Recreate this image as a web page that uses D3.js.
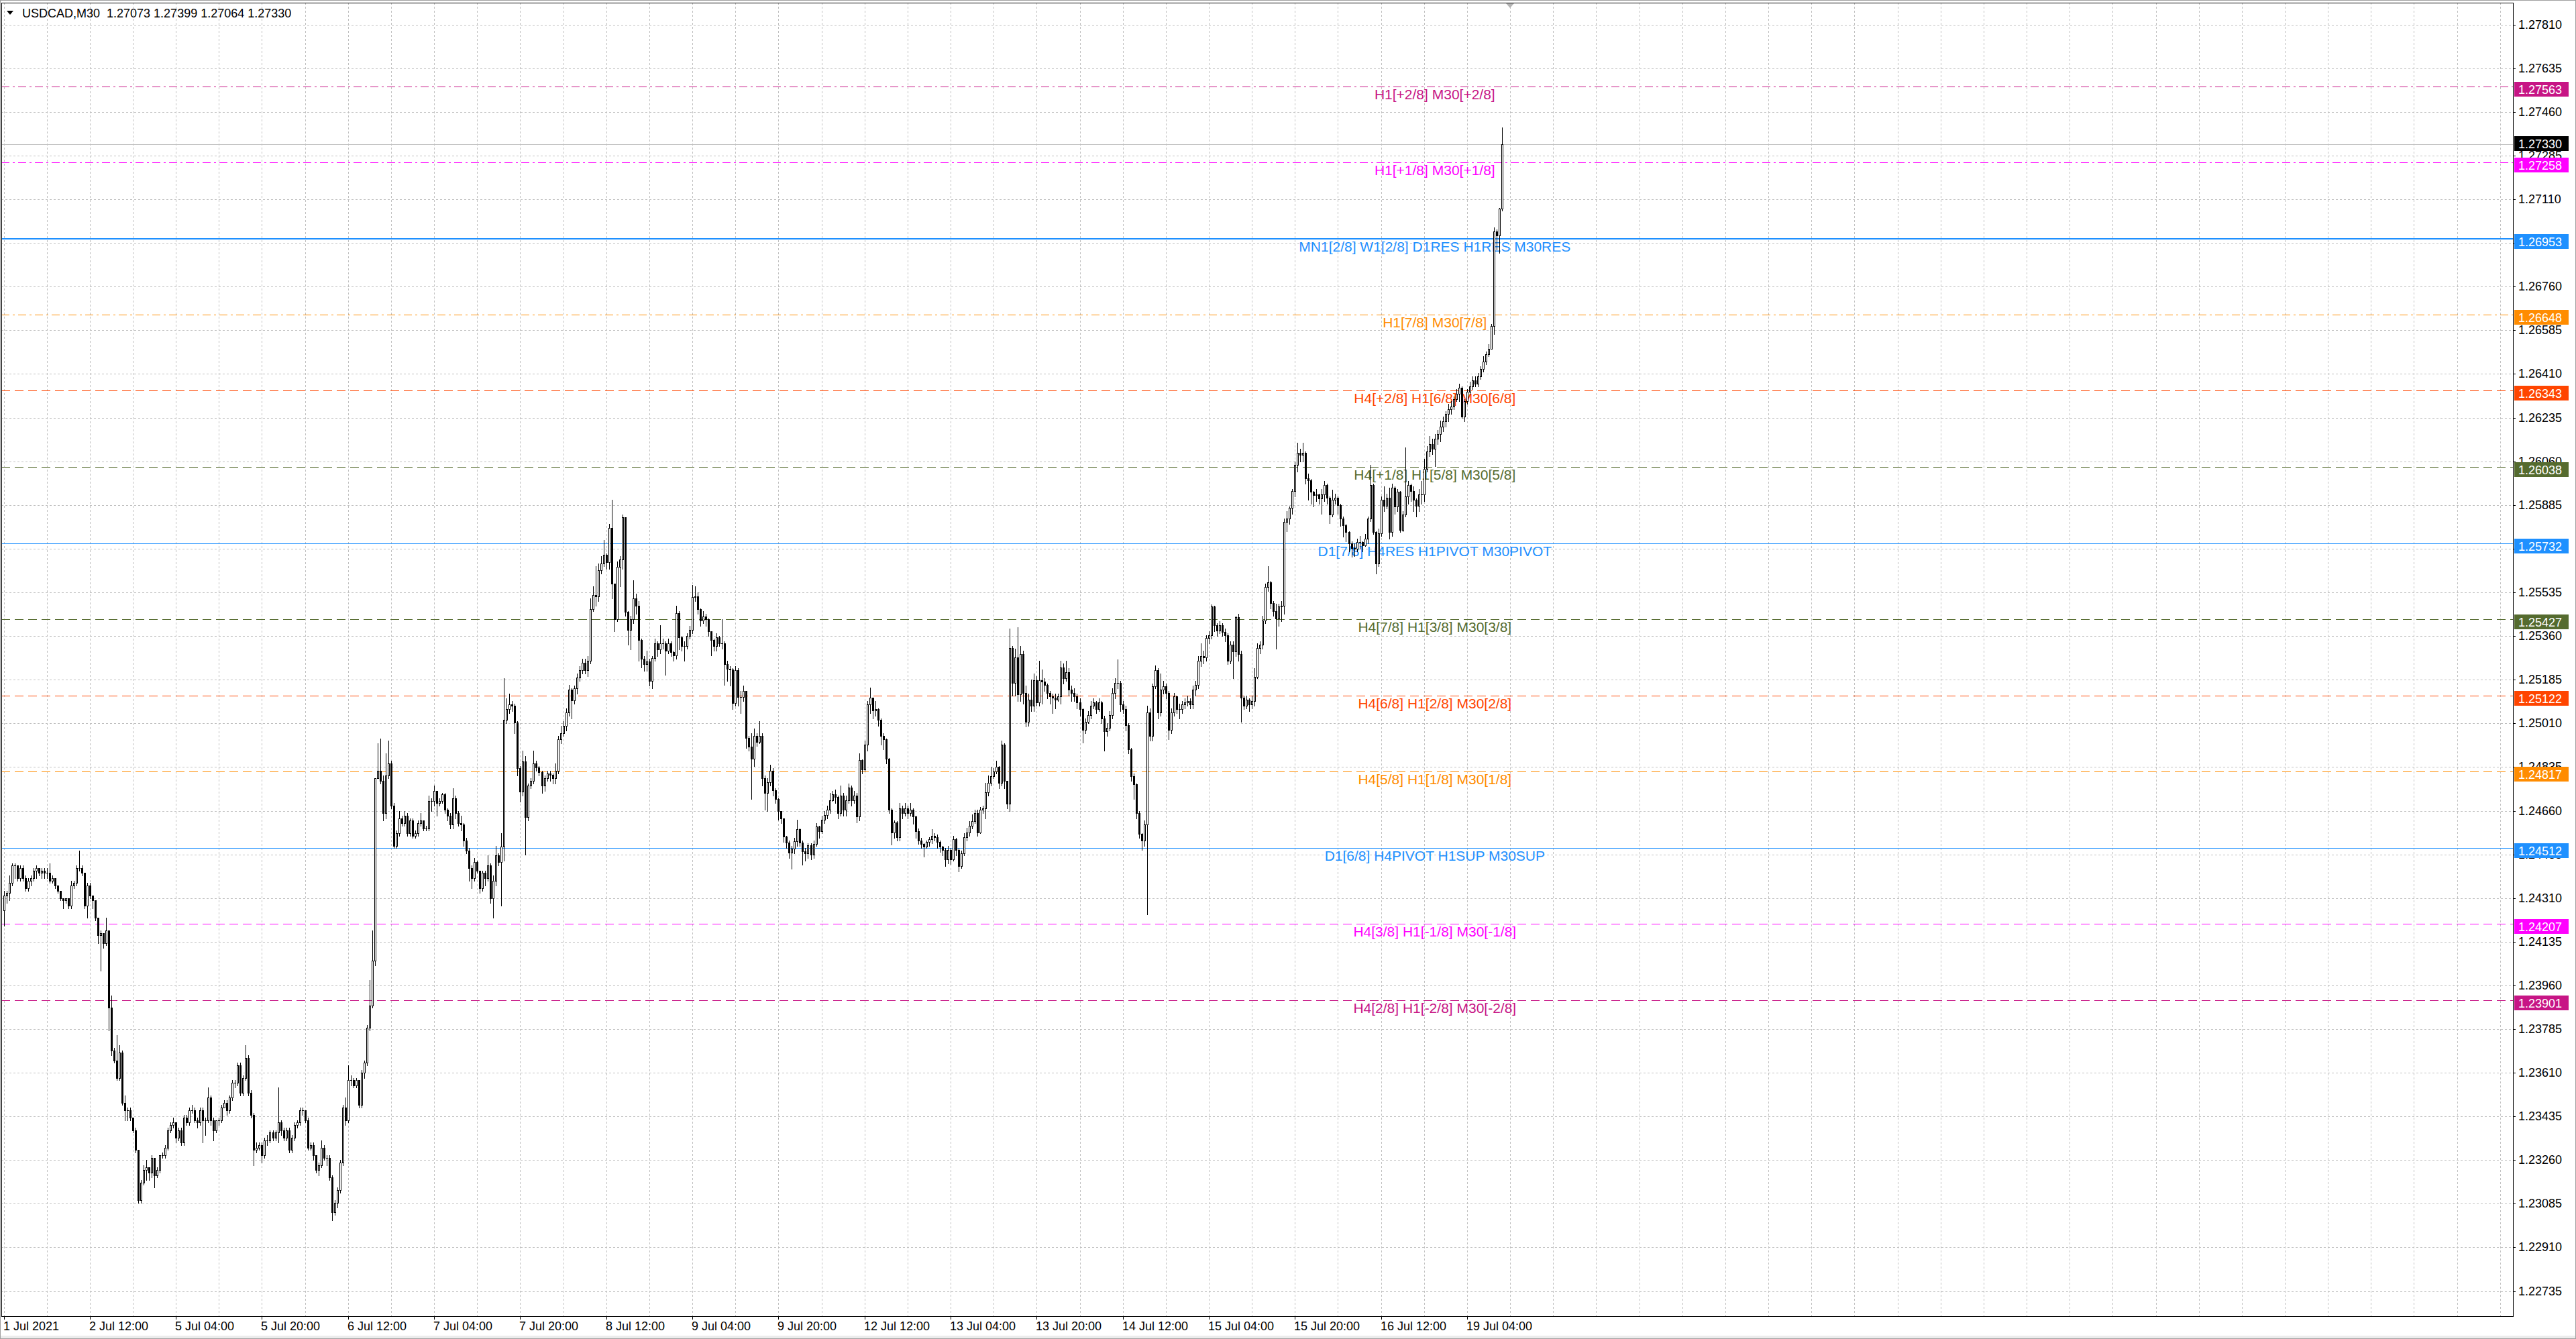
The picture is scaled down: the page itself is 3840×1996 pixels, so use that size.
<!DOCTYPE html>
<html>
<head>
<meta charset="utf-8">
<script src="https://cdn.jsdelivr.net/npm/d3@7"></script>
<style>
html, body { margin: 0; padding: 0; background: #fff; overflow: hidden; }
svg { display: block; }
</style>
</head>
<body>
<svg id="chart" width="3840" height="1996"></svg>
<script>
// ---- data ----
var headerText = "USDCAD,M30  1.27073 1.27399 1.27064 1.27330";
var bidPrice = 1.27330;
var firstOpen = 1.2426;

// one value per M30 bar, 1 Jul 20:00 .. 19 Jul; each bar opens where the previous one closed
var closes = [
1.2432,1.2433,1.2437,1.2444,1.2444,1.2439,1.2443,1.2439,1.2435,1.2438,1.2439,1.2442,1.2443,1.2441,1.2442,1.2441,
1.2441,1.2438,1.2439,1.2436,1.2434,1.2431,1.2430,1.2431,1.2428,1.2436,1.2437,1.2443,1.2443,1.2441,1.2428,1.2436,
1.2432,1.2430,1.2423,1.2416,1.2417,1.2413,1.2418,1.2387,1.2370,1.2366,1.2359,1.2369,1.2349,1.2346,1.2346,1.2343,
1.2338,1.2330,1.2310,1.2317,1.2322,1.2323,1.2321,1.2327,1.2320,1.2322,1.2328,1.2328,1.2331,1.2338,1.2340,1.2341,
1.2335,1.2338,1.2333,1.2343,1.2341,1.2346,1.2346,1.2342,1.2341,1.2346,1.2342,1.2342,1.2351,1.2342,1.2338,1.2342,
1.2342,1.2347,1.2349,1.2346,1.2351,1.2357,1.2357,1.2364,1.2353,1.2359,1.2367,1.2353,1.2344,1.2330,1.2331,1.2332,
1.2328,1.2334,1.2334,1.2337,1.2335,1.2337,1.2341,1.2338,1.2335,1.2338,1.2330,1.2335,1.2340,1.2341,1.2346,1.2346,
1.2342,1.2331,1.2332,1.2328,1.2322,1.2324,1.2331,1.2327,1.2327,1.2319,1.2305,1.2309,1.2314,1.2325,1.2347,1.2342,
1.2358,1.2358,1.2356,1.2358,1.2348,1.2361,1.2365,1.2379,1.2388,1.2406,1.2479,1.2482,1.2478,1.2465,1.2480,1.2485,
1.2468,1.2452,1.2457,1.2463,1.2461,1.2464,1.2457,1.2462,1.2456,1.2457,1.2461,1.2462,1.2459,1.2459,1.2470,1.2470,
1.2474,1.2469,1.2470,1.24725,1.24665,1.2464,1.24605,1.2471,1.2465,1.2461,1.24605,1.2454,1.2450,1.2443,1.2439,1.24455,
1.2442,1.2435,1.2441,1.2439,1.2444,1.2431,1.2438,1.2448,1.24455,1.24515,1.25025,1.25067,1.25085,1.2508,1.25013,1.2483,
1.24737,1.24857,1.24635,1.2476,1.2478,1.2485,1.24833,1.24815,1.2476,1.2479,1.2481,1.24803,1.2479,1.2482,1.24947,1.2497,
1.2500,1.25055,1.25145,1.25103,1.2515,1.25193,1.25223,1.25253,1.25223,1.2526,1.25469,1.25523,1.2552,1.25625,1.2565,1.25685,
1.25655,1.25793,1.2557,1.25427,1.25637,1.25667,1.25835,1.25457,1.25385,1.25427,1.2551,1.2548,1.25343,1.2527,1.25247,1.25259,
1.25181,1.25271,1.25331,1.25307,1.25331,1.2533,1.25301,1.25331,1.25295,1.25283,1.25451,1.25355,1.25319,1.2532,1.25361,1.25385,
1.25517,1.2552,1.25469,1.25421,1.25439,1.25427,1.25379,1.25343,1.25319,1.25355,1.25331,1.2533,1.25247,1.25229,1.25225,1.25091,
1.25223,1.25115,1.25115,1.25139,1.24953,1.24917,1.24869,1.24959,1.24935,1.24959,1.24791,1.24731,1.24773,1.24821,1.24743,1.24707,
1.24659,1.24629,1.24557,1.24533,1.24491,1.24509,1.24539,1.24587,1.24533,1.24497,1.24489,1.24521,1.24483,1.24528,1.24598,1.24579,
1.24624,1.24643,1.24663,1.24701,1.24727,1.24714,1.2465,1.24721,1.24663,1.24701,1.24753,1.24701,1.24721,1.24637,1.24862,1.24824,
1.24926,1.25087,1.25113,1.25061,1.25068,1.25023,1.24959,1.24946,1.24869,1.24663,1.24573,1.24612,1.24554,1.2467,1.2465,1.2467,
1.2465,1.24663,1.24637,1.24579,1.24541,1.24528,1.24515,1.24534,1.24547,1.2456,1.24554,1.24534,1.24515,1.24502,1.24464,1.24502,
1.24464,1.24547,1.24502,1.24438,1.24489,1.24554,1.24573,1.24599,1.24618,1.2465,1.24573,1.24663,1.2467,1.24733,1.24772,1.24798,
1.24817,1.24837,1.24772,1.24926,1.24779,1.24689,1.25312,1.25171,1.25274,1.25126,1.25287,1.25132,1.25017,1.25106,1.25081,1.25184,
1.25094,1.25184,1.25177,1.25164,1.25132,1.25119,1.25113,1.25106,1.25119,1.25235,1.2519,1.25216,1.25145,1.25132,1.25119,1.25094,
1.25068,1.24984,1.25017,1.25042,1.25081,1.25094,1.25068,1.25094,1.2503,1.24978,1.24991,1.25042,1.25132,1.25171,1.25171,1.25087,
1.25068,1.25004,1.24907,1.24798,1.24766,1.2465,1.24567,1.24541,1.24605,1.25055,1.24959,1.25158,1.25222,1.25055,1.25145,1.25158,
1.25132,1.24984,1.25055,1.25119,1.25068,1.25068,1.25087,1.25094,1.2510,1.25087,1.25145,1.25164,1.25261,1.2528,1.25274,1.25351,
1.25364,1.25479,1.25402,1.25383,1.25402,1.25376,1.25364,1.25261,1.25325,1.25299,1.25435,1.25287,1.25113,1.25081,1.25106,1.25087,
1.2510,1.25197,1.25312,1.25325,1.25422,1.25557,1.25576,1.25492,1.2546,1.25431,1.25478,1.2548,1.25816,1.2583,1.25874,1.25942,
1.26045,1.26094,1.26085,1.26094,1.25991,1.25984,1.25937,1.25926,1.25928,1.2591,1.25928,1.25964,1.25915,1.25848,1.25906,1.25915,
1.25885,1.2583,1.25803,1.25776,1.25731,1.25713,1.2571,1.25736,1.25736,1.25722,1.25749,1.2583,1.25964,1.25776,1.2565,1.25771,
1.25906,1.25883,1.25915,1.25776,1.25955,1.2588,1.25937,1.25785,1.25848,1.25919,1.25964,1.25942,1.25906,1.25883,1.25928,1.25928,
1.2603,1.2610,1.2613,1.2611,1.2615,1.2617,1.2620,1.2622,1.2625,1.2627,1.2628,1.2631,1.2633,1.26355,1.2624,1.2630,
1.2634,1.2636,1.26385,1.2637,1.2640,1.2643,1.2646,1.2649,1.2651,1.26601,1.26981,1.26964,1.27073,1.27330
];

var highs = [
1.2434,1.2434,1.2440,1.2445,1.2445,1.2444,1.2444,1.2444,1.2440,1.2439,1.2440,1.2443,1.2444,1.2443,1.2443,1.2443,
1.2443,1.2445,1.2440,1.2439,1.2436,1.2434,1.2431,1.2431,1.2431,1.2438,1.2438,1.2444,1.2450,1.2444,1.2441,1.2437,
1.2437,1.2432,1.2430,1.2423,1.2418,1.2417,1.2423,1.2418,1.2392,1.2371,1.2376,1.2372,1.2370,1.2352,1.2347,1.2347,
1.2343,1.2339,1.2330,1.2318,1.2324,1.2326,1.2323,1.2328,1.2327,1.2323,1.2328,1.2329,1.2332,1.2339,1.2341,1.2343,
1.2341,1.2339,1.2339,1.2344,1.2344,1.2347,1.2348,1.2347,1.2343,1.2347,1.2347,1.2343,1.2355,1.2352,1.2343,1.2342,
1.2343,1.2348,1.2350,1.2350,1.2352,1.2358,1.2358,1.2365,1.2365,1.2360,1.2372,1.2368,1.2354,1.2345,1.2333,1.2333,
1.2333,1.2335,1.2336,1.2338,1.2338,1.2338,1.2355,1.2342,1.2339,1.2339,1.2339,1.2336,1.2341,1.2342,1.2347,1.2347,
1.2346,1.2343,1.2333,1.2333,1.2328,1.2325,1.2334,1.2332,1.2328,1.2328,1.2320,1.2310,1.2315,1.2326,1.2348,1.2351,
1.2364,1.2360,1.2359,1.2359,1.2358,1.2362,1.2366,1.2380,1.2398,1.2418,1.2479,1.2493,1.2495,1.2480,1.2489,1.2494,
1.2486,1.2469,1.2458,1.2466,1.2464,1.2466,1.2465,1.2463,1.2463,1.2458,1.2462,1.2465,1.2462,1.2460,1.2472,1.2471,
1.2476,1.2474,1.2471,1.2473,1.2473,1.2467,1.2465,1.2475,1.2472,1.2466,1.2464,1.2461,1.2455,1.2451,1.2444,1.2447,
1.2446,1.2442,1.2442,1.2442,1.2448,1.2445,1.2440,1.2452,1.2449,1.2457,1.2519,1.2511,1.2513,1.2510,1.2509,1.2502,
1.2484,1.2490,1.2488,1.2477,1.2479,1.2490,1.2486,1.2484,1.2482,1.2480,1.2482,1.2482,1.2481,1.2485,1.2496,1.2500,
1.2502,1.2507,1.25163,1.2515,1.2516,1.2521,1.2524,1.2527,1.2527,1.2528,1.2551,1.2556,1.2564,1.2565,1.2568,1.25745,
1.2569,1.2581,1.25907,1.2557,1.2566,1.2568,1.25847,1.25835,1.2546,1.2544,1.25583,1.2553,1.2550,1.2535,1.2528,1.2530,
1.2527,1.2528,1.2535,1.2534,1.25403,1.2535,1.2534,1.2535,1.2534,1.2530,1.2548,1.2546,1.2536,1.2534,1.2537,1.2540,
1.25565,1.2556,1.25535,1.2547,1.2546,1.2545,1.2543,1.2538,1.2535,1.2537,1.2536,1.25427,1.2534,1.2526,1.2524,1.2523,
1.2524,1.2523,1.2514,1.2516,1.2514,1.2496,1.2497,1.2499,1.2497,1.25019,1.2497,1.2480,1.2479,1.24845,1.2483,1.2475,
1.2471,1.2466,1.2463,1.2456,1.2454,1.2452,1.2455,1.24623,1.2459,1.2454,1.2451,1.2453,1.2453,1.2454,1.2461,1.2460,
1.2464,1.2466,1.2468,1.2473,1.2474,1.24745,1.2472,1.2476,1.2473,1.2472,1.2477,1.2476,1.2474,1.2473,1.2489,1.24865,
1.2494,1.2510,1.25154,1.2511,1.2510,1.2507,1.2503,1.2497,1.2495,1.2487,1.2467,1.2462,1.24618,1.2469,1.2468,1.2469,
1.2468,1.2469,1.2467,1.2464,1.2459,1.2455,1.2453,1.2454,1.24555,1.24587,1.2457,1.24565,1.2454,1.2452,1.2451,1.2452,
1.2451,1.2456,1.2455,1.2451,1.2450,1.2457,1.24592,1.24618,1.24644,1.24663,1.24663,1.24676,1.2468,1.24772,1.2480,1.24837,
1.2483,1.2486,1.2484,1.2494,1.2493,1.2478,1.2539,1.2532,1.2531,1.25396,1.2532,1.2530,1.2516,1.2513,1.25186,1.2521,
1.2520,1.25261,1.25227,1.2519,1.2517,1.2514,1.2513,1.2513,1.2513,1.25261,1.2525,1.2526,1.2523,1.2516,1.2515,1.2513,
1.2511,1.2507,1.2503,1.2506,1.2510,1.2511,1.2510,1.2511,1.2510,1.2504,1.2501,1.2506,1.2515,1.2519,1.25267,1.2518,
1.2510,1.2508,1.2501,1.2491,1.2481,1.2477,1.2466,1.2457,1.2462,1.2508,1.2507,1.2517,1.25242,1.2523,1.2521,1.2518,
1.2517,1.2514,1.2507,1.25132,1.2512,1.2509,1.2510,1.2511,1.2512,1.2511,1.2516,1.2518,1.2528,1.25332,1.2530,1.25364,
1.2538,1.25486,1.2548,1.2541,1.2542,1.2541,1.2539,1.2537,1.2534,1.2534,1.25441,1.2545,1.2530,1.2512,1.2512,1.2511,
1.2512,1.2523,1.2533,1.2534,1.2544,1.2557,1.2564,1.2558,1.2550,1.2549,1.2549,1.2550,1.2583,1.2586,1.2588,1.2595,
1.2606,1.26134,1.2611,1.26134,1.2610,1.2601,1.2599,1.2594,1.2595,1.2593,1.2595,1.2598,1.2597,1.2592,1.25946,1.2593,
1.2592,1.2589,1.2584,1.2581,1.2578,1.2574,1.2573,1.2575,1.2576,1.2574,1.2577,1.2584,1.26045,1.2597,1.2578,1.2579,
1.2592,1.2596,1.2593,1.25955,1.2597,1.2596,1.2595,1.2594,1.2586,1.26116,1.2598,1.2597,1.2596,1.2591,1.2595,1.2598,
1.2607,1.2612,1.2616,1.2615,1.2617,1.26185,1.26224,1.2624,1.2626,1.2629,1.2630,1.2632,1.2635,1.2637,1.2636,1.2631,
1.2635,1.2638,1.2640,1.2640,1.26415,1.2644,1.2648,1.2650,1.2653,1.2661,1.26997,1.2699,1.27076,1.27399
];

var lows = [
1.2420,1.2429,1.2430,1.2436,1.2439,1.2438,1.2438,1.2438,1.2434,1.2434,1.2436,1.2438,1.2439,1.2440,1.2439,1.2439,
1.2439,1.2437,1.2437,1.2435,1.2433,1.2430,1.2427,1.2429,1.2427,1.2427,1.2435,1.2436,1.2442,1.2440,1.2427,1.2423,
1.2431,1.2427,1.2422,1.2413,1.2402,1.2411,1.2412,1.2378,1.2368,1.2365,1.2358,1.2358,1.2348,1.2342,1.2342,1.2342,
1.2337,1.2329,1.2309,1.2309,1.2316,1.2318,1.2318,1.2319,1.2315,1.2319,1.2321,1.2327,1.2327,1.2330,1.2337,1.2339,
1.2333,1.2334,1.2332,1.2332,1.2340,1.2340,1.2345,1.2341,1.2339,1.2340,1.2333,1.2336,1.2341,1.2340,1.2334,1.2337,
1.2340,1.2341,1.2347,1.2344,1.2345,1.2350,1.2355,1.2356,1.2352,1.2352,1.2358,1.2352,1.2343,1.2324,1.2329,1.2330,
1.2325,1.2327,1.2332,1.2333,1.2334,1.2334,1.2333,1.2336,1.2334,1.2334,1.2329,1.2329,1.2334,1.2339,1.2340,1.2344,
1.2341,1.2330,1.2330,1.2326,1.2321,1.2320,1.2323,1.2326,1.2324,1.2318,1.2302,1.2304,1.2307,1.2313,1.2324,1.2340,
1.2341,1.2356,1.2355,1.2355,1.2347,1.2347,1.2359,1.2364,1.2378,1.2387,1.2404,1.2479,1.2477,1.2462,1.2463,1.2479,
1.2467,1.2451,1.2451,1.2456,1.2460,1.2460,1.2456,1.2456,1.2455,1.2455,1.2456,1.2460,1.2458,1.2458,1.2458,1.2466,
1.2468,1.2464,1.2468,1.2469,1.2465,1.2462,1.2459,1.2459,1.2463,1.2460,1.2458,1.2452,1.2449,1.2438,1.2435,1.2438,
1.2441,1.2433,1.2434,1.2436,1.2438,1.2429,1.2423,1.2436,1.2444,1.2428,1.2446,1.2501,1.2505,1.2506,1.2497,1.2480,
1.24695,1.2472,1.24485,1.2462,1.2475,1.2477,1.2482,1.2480,1.2473,1.2474,1.2478,1.2478,1.2477,1.2477,1.2481,1.2493,
1.2496,1.2498,1.2504,1.2503,1.2509,1.2513,1.2518,1.2521,1.2521,1.2520,1.2525,1.2546,1.2548,1.2550,1.2561,1.2564,
1.2563,1.2563,1.2551,1.2538,1.2542,1.2556,1.2563,1.2544,1.25325,1.25307,1.2541,1.2545,1.2526,1.25235,1.2522,1.2522,
1.2516,1.2515,1.2526,1.2528,1.2529,1.2531,1.25205,1.2529,1.2528,1.2526,1.2527,1.25307,1.2530,1.2526,1.2531,1.2535,
1.2537,1.2550,1.2545,1.2540,1.2541,1.2540,1.2536,1.25283,1.2530,1.2530,1.2532,1.2531,1.25163,1.2518,1.2516,1.25067,
1.2508,1.2508,1.2505,1.2510,1.24911,1.2490,1.24707,1.2484,1.2492,1.2493,1.2476,1.24665,1.2466,1.2476,1.2472,1.2469,
1.24623,1.2461,1.24535,1.2451,1.2447,1.24427,1.2449,1.2452,1.2452,1.24443,1.2446,1.2447,1.24465,1.2447,1.2452,1.2455,
1.2457,1.2461,1.2463,1.2465,1.2470,1.2469,1.2463,1.2464,1.2464,1.2464,1.2469,1.2468,1.2469,1.24612,1.2462,1.2481,
1.2482,1.2490,1.2505,1.2503,1.2504,1.2500,1.24926,1.24907,1.2485,1.2465,1.24524,1.2455,1.2454,1.2454,1.2463,1.2464,
1.2463,1.2464,1.24607,1.2455,1.24526,1.2451,1.24476,1.2451,1.2452,1.2453,1.2454,1.2451,1.24496,1.24482,1.24439,1.2445,
1.24445,1.2446,1.2448,1.24417,1.2443,1.2448,1.2454,1.2456,1.2459,1.2461,1.2456,1.2457,1.2465,1.2463,1.2472,1.2476,
1.2479,1.2481,1.2475,1.2476,1.2475,1.24669,1.2466,1.2512,1.2512,1.2510,1.2510,1.2509,1.24997,1.2500,1.2506,1.2506,
1.2508,1.2508,1.2509,1.2514,1.2511,1.2509,1.2505,1.2507,1.2510,1.2509,1.2517,1.2518,1.2512,1.2510,1.2510,1.2507,
1.2504,1.24933,1.2497,1.2501,1.2503,1.2507,1.2505,1.2506,1.2501,1.24901,1.2496,1.2498,1.2503,1.2511,1.2515,1.2506,
1.2505,1.2498,1.2489,1.2478,1.24708,1.2463,1.2455,1.24502,1.2452,1.24245,1.2494,1.2494,1.2515,1.2503,1.2504,1.2513,
1.2511,1.24946,1.2497,1.2504,1.2505,1.2503,1.2505,1.2507,1.2508,1.2507,1.2507,1.2512,1.2515,1.2524,1.2525,1.2526,
1.2533,1.2535,1.2538,1.2536,1.2537,1.2536,1.2534,1.25248,1.2525,1.2519,1.2528,1.2526,1.25017,1.25068,1.2507,1.2506,
1.2507,1.2508,1.2519,1.2529,1.2531,1.2541,1.2554,1.2547,1.2544,1.2531,1.2540,1.2542,1.2545,1.2578,1.2581,1.2585,
1.2592,1.2602,1.2606,1.2606,1.2597,1.25905,1.2589,1.2588,1.2590,1.2589,1.2585,1.2590,1.2589,1.25811,1.2584,1.2589,
1.2585,1.2580,1.25758,1.2574,1.2570,1.25677,1.2568,1.2570,1.2571,1.2570,1.2572,1.2573,1.2582,1.2577,1.2561,1.2564,
1.2576,1.2586,1.2587,1.2575,1.2576,1.2585,1.2586,1.25776,1.2578,1.2584,1.2589,1.2590,1.2586,1.2584,1.2586,1.2589,
1.2590,1.2602,1.2608,1.2609,1.2604,1.2613,1.2614,1.2618,1.2620,1.2622,1.2625,1.2627,1.2630,1.2630,1.26233,1.2622,
1.2629,1.2633,1.2635,1.2636,1.2636,1.2639,1.2642,1.2645,1.2648,1.2651,1.26569,1.2691,1.26896,1.27064
];

// time axis labels, one every 32 bars
var timeLabels = ["1 Jul 2021","2 Jul 12:00","5 Jul 04:00","5 Jul 20:00","6 Jul 12:00","7 Jul 04:00",
  "7 Jul 20:00","8 Jul 12:00","9 Jul 04:00","9 Jul 20:00","12 Jul 12:00","13 Jul 04:00",
  "13 Jul 20:00","14 Jul 12:00","15 Jul 04:00","15 Jul 20:00","16 Jul 12:00","19 Jul 04:00"];

var priceTicks = ["1.27810","1.27635","1.27460","1.27285","1.27110","1.26935","1.26760","1.26585",
  "1.26410","1.26235","1.26060","1.25885","1.25710","1.25535","1.25360","1.25185","1.25010",
  "1.24835","1.24660","1.24485","1.24310","1.24135","1.23960","1.23785","1.23610","1.23435",
  "1.23260","1.23085","1.22910","1.22735"];

// Murrey math levels drawn by the indicator
var levelPrices = [1.27563,1.27258,1.26953,1.26648,1.26343,1.26038,1.25732,1.25427,1.25122,1.24817,1.24512,1.24207,1.23901];
var levelNames = ["H1[+2/8] M30[+2/8]","H1[+1/8] M30[+1/8]","MN1[2/8] W1[2/8] D1RES H1RES M30RES",
  "H1[7/8] M30[7/8]","H4[+2/8] H1[6/8] M30[6/8]","H4[+1/8] H1[5/8] M30[5/8]",
  "D1[7/8] H4RES H1PIVOT M30PIVOT","H4[7/8] H1[3/8] M30[3/8]","H4[6/8] H1[2/8] M30[2/8]",
  "H4[5/8] H1[1/8] M30[1/8]","D1[6/8] H4PIVOT H1SUP M30SUP","H4[3/8] H1[-1/8] M30[-1/8]",
  "H4[2/8] H1[-2/8] M30[-2/8]"];

// ---- styling ----
var levelStyle = [
  {color: "#C71585", dash: "12,5,3,5", width: 1},
  {color: "#FF00FF", dash: "12,5,3,5", width: 1},
  {color: "#1E90FF", dash: null, width: 2},
  {color: "#FF8C00", dash: "12,5,3,5", width: 1},
  {color: "#FF4500", dash: "13,7", width: 1},
  {color: "#556B2F", dash: "13,7", width: 1},
  {color: "#1E90FF", dash: null, width: 1},
  {color: "#556B2F", dash: "13,7", width: 1},
  {color: "#FF4500", dash: "13,7", width: 1},
  {color: "#FF8C00", dash: "13,7", width: 1},
  {color: "#1E90FF", dash: null, width: 1},
  {color: "#FF00FF", dash: "13,7", width: 1},
  {color: "#C71585", dash: "13,7", width: 1}
];

var W = 3840, H = 1996;
var plot = {left: 2, top: 4, right: 3746, bottom: 1962};
var uiFont = "'Liberation Sans', Arial, sans-serif";
var barStep = 4.01;
var labelBar = 532;

var x = d3.scaleLinear().domain([0, 100]).range([5.5, 5.5 + 100 * barStep]);
var y = d3.scaleLinear().domain([1.22735, 1.27810]).range([1924.6, 36.7]);
var lastSlot = Math.floor(x.invert(plot.right));

var bars = closes.map(function(c, i) {
  return {i: i, o: i ? closes[i - 1] : firstOpen, h: highs[i], l: lows[i], c: c};
});

var svg = d3.select("#chart");

svg.append("rect").attr("width", W).attr("height", H).attr("fill", "#fff");
svg.append("rect").attr("x", 0).attr("y", H - 5).attr("width", W).attr("height", 5).attr("fill", "#ececec");
svg.append("rect").attr("x", 0.5).attr("y", 0.5).attr("width", W - 1).attr("height", H - 1)
  .attr("fill", "none").attr("stroke", "#a0a0a0");

svg.append("clipPath").attr("id", "plotClip").append("rect")
  .attr("x", plot.left).attr("y", plot.top)
  .attr("width", plot.right - plot.left).attr("height", plot.bottom - plot.top);

var g = svg.append("g").attr("clip-path", "url(#plotClip)");

// grid
g.selectAll(".hgrid").data(priceTicks).join("line")
  .attr("class", "hgrid")
  .attr("x1", plot.left).attr("x2", plot.right)
  .attr("y1", function(d) { return Math.round(y(+d)) + 0.5; })
  .attr("y2", function(d) { return Math.round(y(+d)) + 0.5; })
  .attr("stroke", "#c0c0c0").attr("stroke-dasharray", "3,3");

g.selectAll(".vgrid").data(d3.range(0, lastSlot + 1, 16)).join("line")
  .attr("class", "vgrid")
  .attr("x1", function(d) { return Math.round(x(d)) + 0.5; })
  .attr("x2", function(d) { return Math.round(x(d)) + 0.5; })
  .attr("y1", plot.top).attr("y2", plot.bottom)
  .attr("stroke", "#c0c0c0").attr("stroke-dasharray", "3,3");

// level lines
g.selectAll(".level").data(levelPrices).join("line")
  .attr("class", "level")
  .attr("x1", plot.left).attr("x2", plot.right)
  .attr("y1", function(d, i) { return Math.round(y(d)) + (levelStyle[i].width % 2 ? 0.5 : 0); })
  .attr("y2", function(d, i) { return Math.round(y(d)) + (levelStyle[i].width % 2 ? 0.5 : 0); })
  .attr("stroke", function(d, i) { return levelStyle[i].color; })
  .attr("stroke-width", function(d, i) { return levelStyle[i].width; })
  .attr("stroke-dasharray", function(d, i) { return levelStyle[i].dash; });

// bid line
g.append("line")
  .attr("x1", plot.left).attr("x2", plot.right)
  .attr("y1", Math.round(y(bidPrice)) + 0.5).attr("y2", Math.round(y(bidPrice)) + 0.5)
  .attr("stroke", "#c0c0c0");

// level captions (candles are drawn over them)
g.selectAll(".levelText").data(levelPrices).join("text")
  .attr("class", "levelText")
  .attr("x", x(labelBar))
  .attr("y", function(d) { return Math.round(y(d)) + 19; })
  .attr("text-anchor", "middle")
  .attr("font-family", uiFont).attr("font-size", 21)
  .attr("fill", function(d, i) { return levelStyle[i].color; })
  .text(function(d, i) { return levelNames[i]; });

// candles
var candle = g.selectAll(".bar").data(bars).join("g").attr("class", "bar")
  .attr("shape-rendering", "crispEdges");

candle.append("rect")
  .attr("x", function(d) { return Math.round(x(d.i)); })
  .attr("width", 1)
  .attr("y", function(d) { return Math.round(y(d.h)); })
  .attr("height", function(d) { return Math.round(y(d.l)) - Math.round(y(d.h)) + 1; })
  .attr("fill", "#000");

candle.append("rect")
  .attr("x", function(d) { return Math.round(x(d.i)) - 1; })
  .attr("width", 3)
  .attr("y", function(d) { return Math.round(y(Math.max(d.o, d.c))); })
  .attr("height", function(d) { return Math.round(y(Math.min(d.o, d.c))) - Math.round(y(Math.max(d.o, d.c))) + 1; })
  .attr("fill", "#000");

candle.filter(function(d) {
    return d.c > d.o && Math.round(y(d.o)) - Math.round(y(d.c)) >= 2;
  })
  .append("rect")
  .attr("x", function(d) { return Math.round(x(d.i)); })
  .attr("width", 1)
  .attr("y", function(d) { return Math.round(y(d.c)) + 1; })
  .attr("height", function(d) { return Math.round(y(d.o)) - Math.round(y(d.c)) - 1; })
  .attr("fill", "#fff");

// frame
svg.append("rect")
  .attr("x", plot.left + 0.5).attr("y", plot.top + 0.5)
  .attr("width", plot.right - plot.left).attr("height", plot.bottom - plot.top)
  .attr("fill", "none").attr("stroke", "#000");

// chart shift marker
var shiftX = Math.round(x(560));
svg.append("path")
  .attr("d", "M" + (shiftX - 6) + "," + (plot.top + 1) + "L" + (shiftX + 6) + "," + (plot.top + 1) + "L" + shiftX + "," + (plot.top + 8) + "Z")
  .attr("fill", "#b4b4b4");

// header
svg.append("path").attr("d", "M10,16L20,16L15,22Z").attr("fill", "#000");
svg.append("text")
  .attr("x", 33).attr("y", 26)
  .attr("font-family", uiFont).attr("font-size", 18)
  .style("white-space", "pre")
  .attr("fill", "#000")
  .text(headerText);

// price axis
var axisG = svg.append("g").attr("font-family", uiFont).attr("font-size", 18);

axisG.selectAll(".ytick").data(priceTicks).join("line")
  .attr("x1", plot.right).attr("x2", plot.right + 4)
  .attr("y1", function(d) { return Math.round(y(+d)) + 0.5; })
  .attr("y2", function(d) { return Math.round(y(+d)) + 0.5; })
  .attr("stroke", "#000");

axisG.selectAll(".ylabel").data(priceTicks).join("text")
  .attr("x", plot.right + 8)
  .attr("y", function(d) { return Math.round(y(+d)) + 6; })
  .attr("fill", "#000")
  .text(function(d) { return d; });

var boxes = axisG.selectAll(".lvlBox").data(levelPrices).join("g").attr("class", "lvlBox");
boxes.append("rect")
  .attr("x", plot.right + 2).attr("width", 81)
  .attr("y", function(d) { return Math.round(y(d)) - 7; })
  .attr("height", 22)
  .attr("fill", function(d, i) { return levelStyle[i].color; });
boxes.append("text")
  .attr("x", plot.right + 8)
  .attr("y", function(d) { return Math.round(y(d)) + 11; })
  .attr("fill", "#fff")
  .text(function(d) { return d3.format(".5f")(d); });

axisG.append("rect")
  .attr("x", plot.right + 2).attr("width", 81)
  .attr("y", Math.round(y(bidPrice)) - 12).attr("height", 22)
  .attr("fill", "#000");
axisG.append("text")
  .attr("x", plot.right + 8).attr("y", Math.round(y(bidPrice)) + 6)
  .attr("fill", "#fff")
  .text(d3.format(".5f")(bidPrice));

// time axis
var timeG = svg.append("g").attr("font-family", uiFont).attr("font-size", 18);
timeG.selectAll("line").data(timeLabels).join("line")
  .attr("x1", function(d, i) { return Math.round(x(i * 32)) + 0.5; })
  .attr("x2", function(d, i) { return Math.round(x(i * 32)) + 0.5; })
  .attr("y1", plot.bottom).attr("y2", plot.bottom + 5)
  .attr("stroke", "#000");
timeG.selectAll("text").data(timeLabels).join("text")
  .attr("x", function(d, i) { return Math.round(x(i * 32)) - 1; })
  .attr("y", plot.bottom + 21)
  .attr("fill", "#000")
  .text(function(d) { return d; });
</script>
</body>
</html>
